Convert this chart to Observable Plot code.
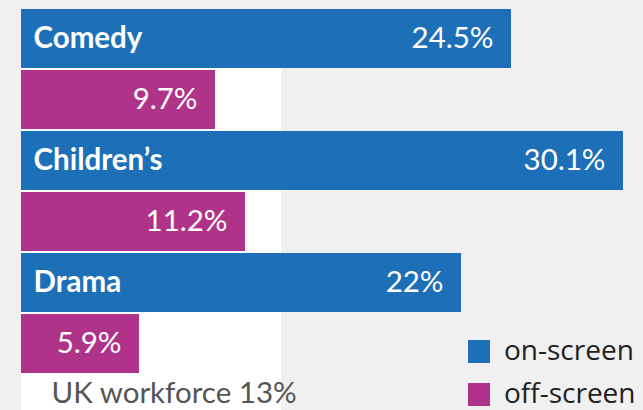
<!DOCTYPE html>
<html>
<head>
<meta charset="utf-8">
<script src="https://cdn.jsdelivr.net/npm/d3@7"></script>
<script src="https://cdn.jsdelivr.net/npm/@observablehq/plot@0.6"></script>
<style>
  html, body { margin: 0; padding: 0; background: #f0f0f0; }
  #wrap { position: relative; width: 643px; height: 410px; overflow: hidden; }
  #legend { position: absolute; left: 468px; top: 340px; font-family: "Open Sans", sans-serif; font-size: 28px; color: #222; }
  .row { display: flex; align-items: center; height: 23px; margin-bottom: 20px; white-space: nowrap; }
  .sw { width: 22px; height: 23px; margin-right: 14px; flex: none; }
  .lab { display: inline-block; height: 23px; line-height: 23px; overflow: visible; position: relative; top: -2px; }
</style>
</head>
<body>
<div id="wrap"></div>
<script>
const categories = ["Comedy", "Children’s", "Drama"];
const onScreen = [24.5, 30.1, 22];
const offScreen = [9.7, 11.2, 5.9];
const workforce = 13;
const seriesNames = ["on-screen", "off-screen"];
const seriesColors = ["#1d70b8", "#b0338a"];

const rows = [];
categories.forEach((c, i) => {
  rows.push({key: c + "|on", category: c, series: seriesNames[0], value: onScreen[i]});
  rows.push({key: c + "|off", category: c, series: seriesNames[1], value: offScreen[i]});
});
const onRows = rows.filter(d => d.series === seriesNames[0]);

const fs = 29.5;
const chart = Plot.plot({
  width: 643,
  height: 410,
  marginLeft: 21,
  marginRight: 20,
  marginTop: 9,
  marginBottom: 37,
  style: {background: "transparent", fontFamily: "Lato, sans-serif", fontSize: fs + "px"},
  x: {domain: [0, d3.max(onScreen)], axis: null},
  y: {domain: rows.map(d => d.key), paddingInner: 0.033, paddingOuter: 0, axis: null},
  color: {domain: seriesNames, range: seriesColors, legend: false},
  marks: [
    Plot.rect([workforce], {x1: 0, x2: d => d, fill: "white", insetBottom: -37}),
    Plot.barX(rows, {x: "value", y: "key", fill: "series"}),
    Plot.text(onRows, {y: "key", frameAnchor: "left", text: "category", dx: 12, textAnchor: "start", fill: "white", fontWeight: "bold", fontSize: fs}),
    Plot.text(rows, {x: "value", y: "key", text: d => `${d.value}%`, textAnchor: "end", dx: -18, fill: "white", fontSize: fs}),
    Plot.text([workforce], {frameAnchor: "bottom-left", text: d => `UK workforce ${d}%`, dx: 30, dy: 9, lineAnchor: "top", textAnchor: "start", fill: "#555", fontSize: fs})
  ]
});

const wrap = document.getElementById("wrap");
wrap.appendChild(chart);

const legend = document.createElement("div");
legend.id = "legend";
seriesNames.forEach((name, i) => {
  const row = document.createElement("div");
  row.className = "row";
  const sw = document.createElement("div");
  sw.className = "sw";
  sw.style.background = seriesColors[i];
  const label = document.createElement("span");
  label.className = "lab";
  label.textContent = name;
  row.appendChild(sw);
  row.appendChild(label);
  legend.appendChild(row);
});
wrap.appendChild(legend);
</script>
</body>
</html>
